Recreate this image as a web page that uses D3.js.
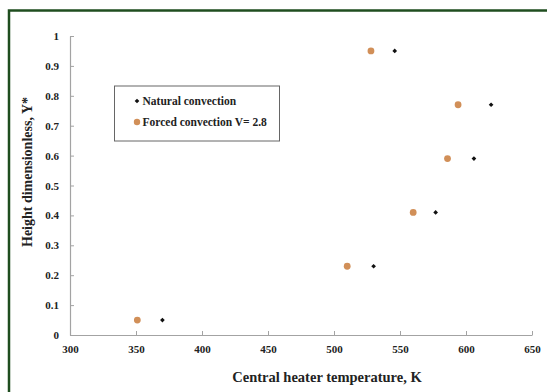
<!DOCTYPE html>
<html>
<head>
<meta charset="utf-8">
<script src="https://cdn.jsdelivr.net/npm/d3@7"></script>
<style>
  html, body { margin: 0; padding: 0; background: #fff; }
  svg { display: block; }
  text { font-family: "Liberation Serif", "Times New Roman", serif; font-weight: bold; }
</style>
</head>
<body>
<svg id="chart" width="547" height="392"></svg>
<script>
// Heater temperature (K) at each dimensionless height Y*
const heights = [0.05, 0.23, 0.41, 0.59, 0.77, 0.95];
const naturalTemp = [370, 530, 577, 606, 619, 546];
const forcedTemp = [351, 510, 560, 586, 594, 528];

const xTicks = [300, 350, 400, 450, 500, 550, 600, 650];
const yTicks = [0, 0.1, 0.2, 0.3, 0.4, 0.5, 0.6, 0.7, 0.8, 0.9, 1];

const seriesNames = ["Natural convection", "Forced convection V= 2.8"];

const svg = d3.select("#chart");
const margin = { left: 70, right: 15, top: 36, bottom: 57 };
const W = 547, H = 392;

const x = d3.scaleLinear().domain([300, 650]).range([margin.left, W - margin.right]);
const y = d3.scaleLinear().domain([0, 1]).range([H - margin.bottom, margin.top]);

// outer frame
svg.append("rect")
  .attr("x", 9).attr("y", 10.5)
  .attr("width", 620).attr("height", 500)
  .attr("fill", "none")
  .attr("stroke", "#1f4d1f")
  .attr("stroke-width", 2.5);

const axisColor = "#a3a3a3";

// x axis
const gx = svg.append("g")
  .attr("transform", `translate(0,${y(0)})`)
  .call(d3.axisBottom(x).tickValues(xTicks).tickSize(-4).tickSizeOuter(0).tickPadding(10).tickFormat(d3.format("d")));
// y axis
const gy = svg.append("g")
  .attr("transform", `translate(${x(300)},0)`)
  .call(d3.axisLeft(y).tickValues(yTicks).tickSize(-4).tickSizeOuter(0).tickPadding(11).tickFormat(d => d === 0 ? "0" : d === 1 ? "1" : d3.format(".1f")(d)));

[gx, gy].forEach(g => {
  g.selectAll("path.domain").attr("stroke", axisColor).attr("stroke-width", 1.2);
  g.selectAll(".tick line").attr("stroke", axisColor);
  g.selectAll(".tick text")
    .attr("fill", "#222")
    .style("font-size", "11px")
    .style("font-family", "'Liberation Serif', serif")
    .style("font-weight", "bold");
});

// axis titles
svg.append("text")
  .attr("x", 327).attr("y", 382)
  .attr("text-anchor", "middle")
  .attr("fill", "#222")
  .style("font-size", "14.5px")
  .text("Central heater temperature,  K");

svg.append("text")
  .attr("transform", "translate(32,172) rotate(-90)")
  .attr("text-anchor", "middle")
  .attr("fill", "#222")
  .style("font-size", "14px")
  .text("Height dimensionless, Y*");

// forced convection markers
svg.append("g").selectAll("circle")
  .data(heights.map((h, i) => ({ t: forcedTemp[i], h })))
  .join("circle")
  .attr("cx", d => x(d.t))
  .attr("cy", d => y(d.h))
  .attr("r", 3.4)
  .attr("fill", "#d18f58");

// natural convection markers (small diamonds)
const diamond = d3.symbol().type(d3.symbolDiamond2).size(14);
svg.append("g").selectAll("path")
  .data(heights.map((h, i) => ({ t: naturalTemp[i], h })))
  .join("path")
  .attr("d", diamond)
  .attr("transform", d => `translate(${x(d.t)},${y(d.h)})`)
  .attr("fill", "#111");

// legend
const lg = svg.append("g");
lg.append("rect")
  .attr("x", 114.5).attr("y", 86)
  .attr("width", 165).attr("height", 55)
  .attr("fill", "#fff")
  .attr("stroke", "#666")
  .attr("stroke-width", 1);
lg.append("path")
  .attr("d", diamond)
  .attr("transform", "translate(137,101)")
  .attr("fill", "#111");
lg.append("circle")
  .attr("cx", 137).attr("cy", 122)
  .attr("r", 3.2)
  .attr("fill", "#d18f58");
lg.selectAll("text.leg")
  .data(seriesNames)
  .join("text")
  .attr("class", "leg")
  .attr("x", 142.5)
  .attr("y", (d, i) => 105 + i * 21)
  .attr("fill", "#222")
  .style("font-size", "11.5px")
  .text(d => d);
</script>
</body>
</html>
